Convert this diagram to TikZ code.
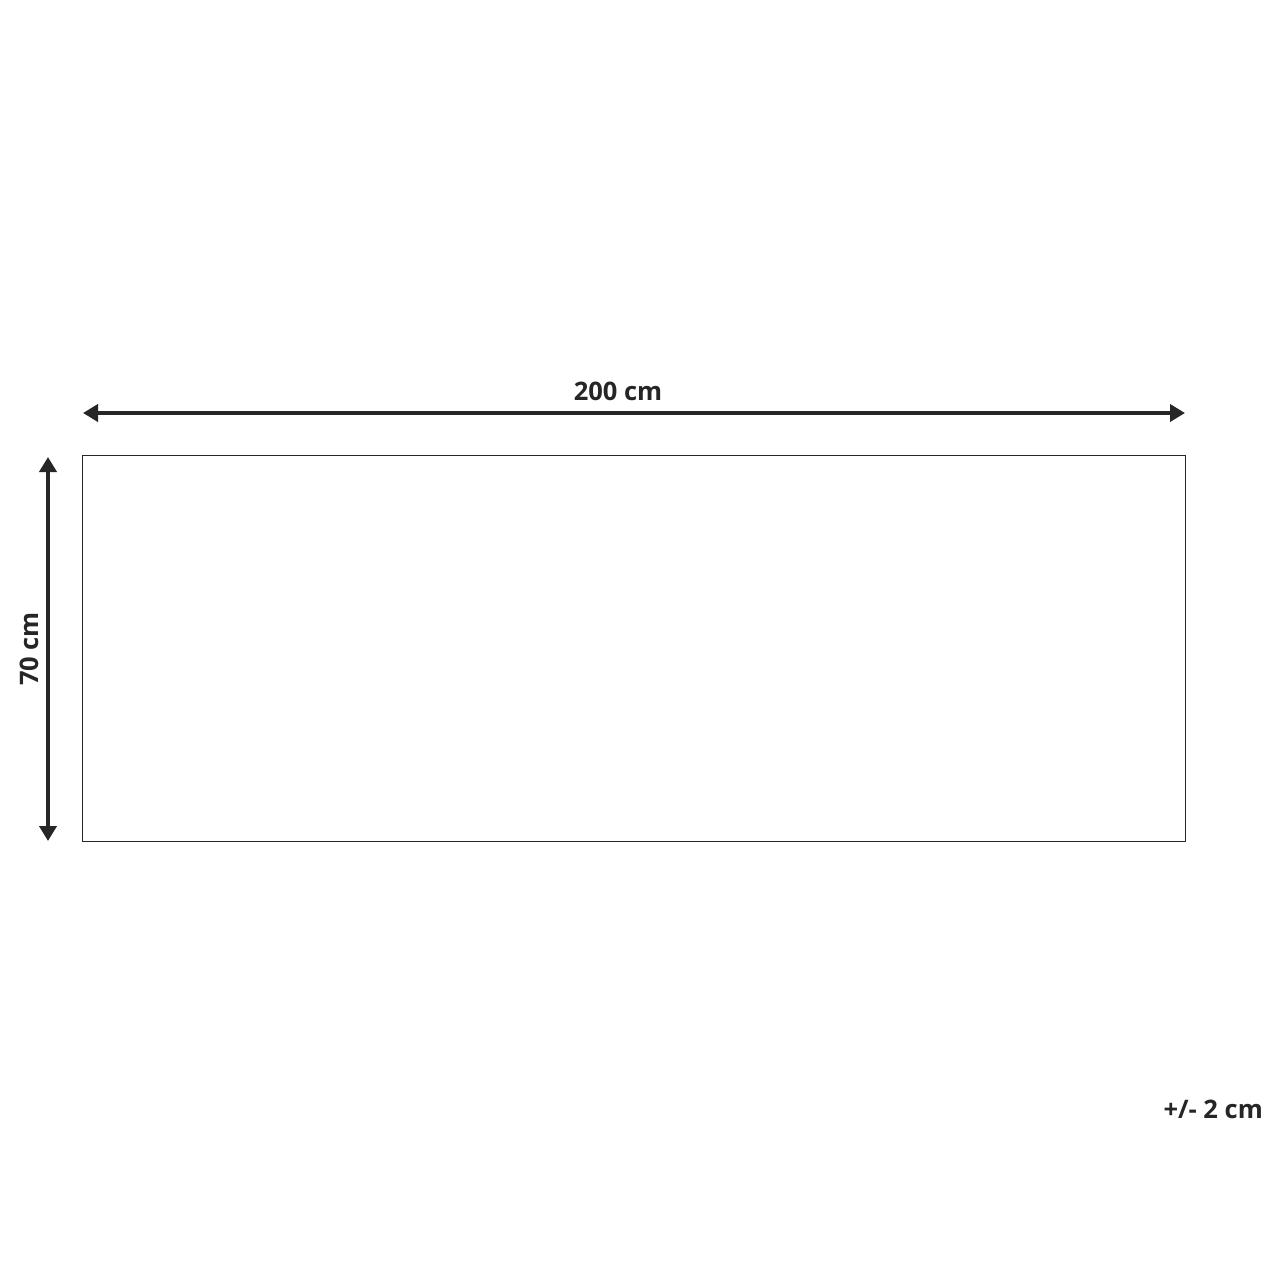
\documentclass[tikz,border=0pt]{standalone}
\usepackage{fontspec}
\setmainfont{Open Sans}
\usetikzlibrary{arrows.meta}
\begin{document}
\begin{tikzpicture}[x=1pt,y=-1pt,
  dimline/.style={line width=4.5pt,color=black!85,{Triangle[length=15pt,width=17pt]}-{Triangle[length=15pt,width=17pt]}},
  dimlabel/.style={font=\fontsize{25.5}{30}\selectfont\bfseries,text=black!85,inner sep=0pt},
  rug/.style={draw=black!85,line width=1pt}]
\useasboundingbox (0,0) rectangle (1279,1280);
\fill[white] (0,0) rectangle (1279,1280);
\draw[rug] (82,455.5) rectangle (1185,841);
\coordinate (hl) at (83,413);
\coordinate (hr) at (1185,413);
\coordinate (vt) at (48,457);
\coordinate (vb) at (48,841);
\draw[dimline] (hl) -- (hr);
\draw[dimline] (vt) -- (vb);
\node[dimlabel] (w) at (618,391) {200 cm};
\node[dimlabel,rotate=90] (h) at (29,649) {70 cm};
\node[dimlabel,anchor=east] (tol) at (1263,1109) {+/- 2 cm};
\end{tikzpicture}
\end{document}
